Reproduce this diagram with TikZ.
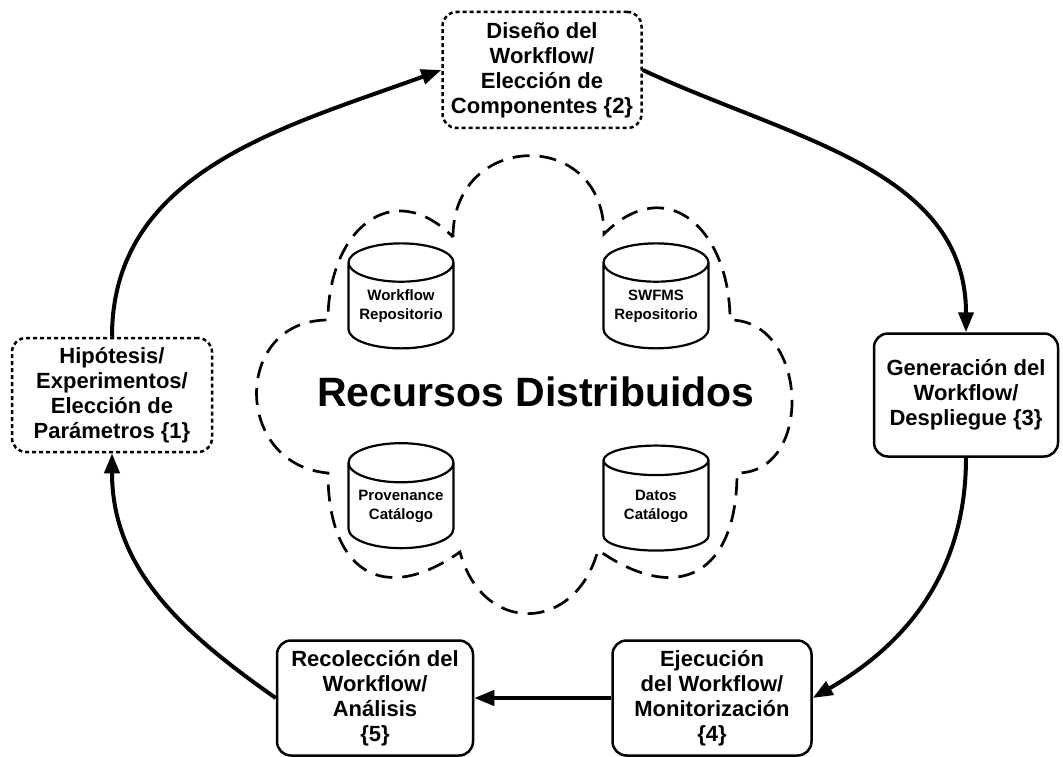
\documentclass[tikz,border=0pt]{standalone}
\usepackage{fontspec}
\setmainfont{Liberation Sans}
\usetikzlibrary{shapes.geometric,arrows.meta}

\begin{document}
\begin{tikzpicture}
[x=1pt,y=1pt,
  boxDecorate/.style={shape=rectangle,rounded corners=14pt,draw,line width=2.5pt,
    align=center,inner sep=0pt,font=\fontsize{22}{25}\selectfont\bfseries},%
  dashBoxDecorate/.style={boxDecorate,dash pattern=on 4pt off 3pt},%
  cylDecorate/.style={shape=cylinder,shape border rotate=90,aspect=0.46,draw,
    fill=white,line width=2.2pt,minimum width=105pt,minimum height=105pt,
    align=center,inner sep=0pt,font=\fontsize{15}{19}\selectfont\bfseries},%
  cloudDecorate/.style={line width=2.7pt,dash pattern=on 17pt off 10pt},%
  lineDecorate/.style={line width=4pt,-{Triangle[length=20pt,width=15pt]}}]
\useasboundingbox (0,0) rectangle (1063,-757);
%% cloud, drawn puff by puff
\draw[cloudDecorate] (453,-237)
  to[out=90,in=90,looseness=1.8] (604,-234)
  to[out=45,in=90,looseness=1.5] (730,-320)
  to[out=0,in=0,looseness=1.3] (737,-473)
  to[out=-90,in=-35,looseness=1.6] (598,-550)
  to[out=-105,in=-75,looseness=1.6] (460,-552)
  to[out=-145,in=-90,looseness=1.6] (328,-473)
  to[out=175,in=180,looseness=1.6] (328,-320)
  to[out=90,in=135,looseness=1.5] cycle;
%% stores
\foreach \nodename/\x/\y/\texto in {
  wfrepo/401/-306/{Workflow\\Repositorio}, swfms/656/-306/{SWFMS\\Repositorio},
  proven/401/-506/{Provenance\\Catálogo}, datos/656/-506/{Datos\\Catálogo}}
{
  \node (\nodename) at (\x,\y) [cylDecorate] {\texto};
}
\node (recursos) at (536,-392) [font=\fontsize{41}{49}\selectfont\bfseries]
  {Recursos Distribuidos};
%% steps of the cycle
\node (hipotesis) at (112,-395) [dashBoxDecorate,minimum width=200pt,minimum height=114pt]
  {Hipótesis/\\Experimentos/\\Elección de\\Parámetros \{1\}};
\node (diseno) at (542,-70) [dashBoxDecorate,minimum width=199pt,minimum height=116pt]
  {Diseño del\\Workflow/\\Elección de\\Componentes \{2\}};
\node (generacion) at (966,-395) [boxDecorate,minimum width=184pt,minimum height=123pt]
  {Generación del\\Workflow/\\Despliegue \{3\}};
\node (ejecucion) at (712,-698) [boxDecorate,minimum width=199pt,minimum height=115pt]
  {Ejecución\\del Workflow/\\Monitorización\\\{4\}};
\node (recoleccion) at (375,-698) [boxDecorate,minimum width=196pt,minimum height=115pt]
  {Recolección del\\Workflow/\\Análisis\\\{5\}};
%% arrows
\path
\foreach \startnode/\endnode/\o/\i in {hipotesis.north/diseno.west/90/200,
  diseno.east/generacion.north/-25/90, generacion.south/ejecucion.east/-90/30,
  ejecucion.west/recoleccion.east/180/0, recoleccion.west/hipotesis.south/145/-90}
{
  (\startnode) edge[lineDecorate,out=\o,in=\i] (\endnode)
};
\end{tikzpicture}
\end{document}
